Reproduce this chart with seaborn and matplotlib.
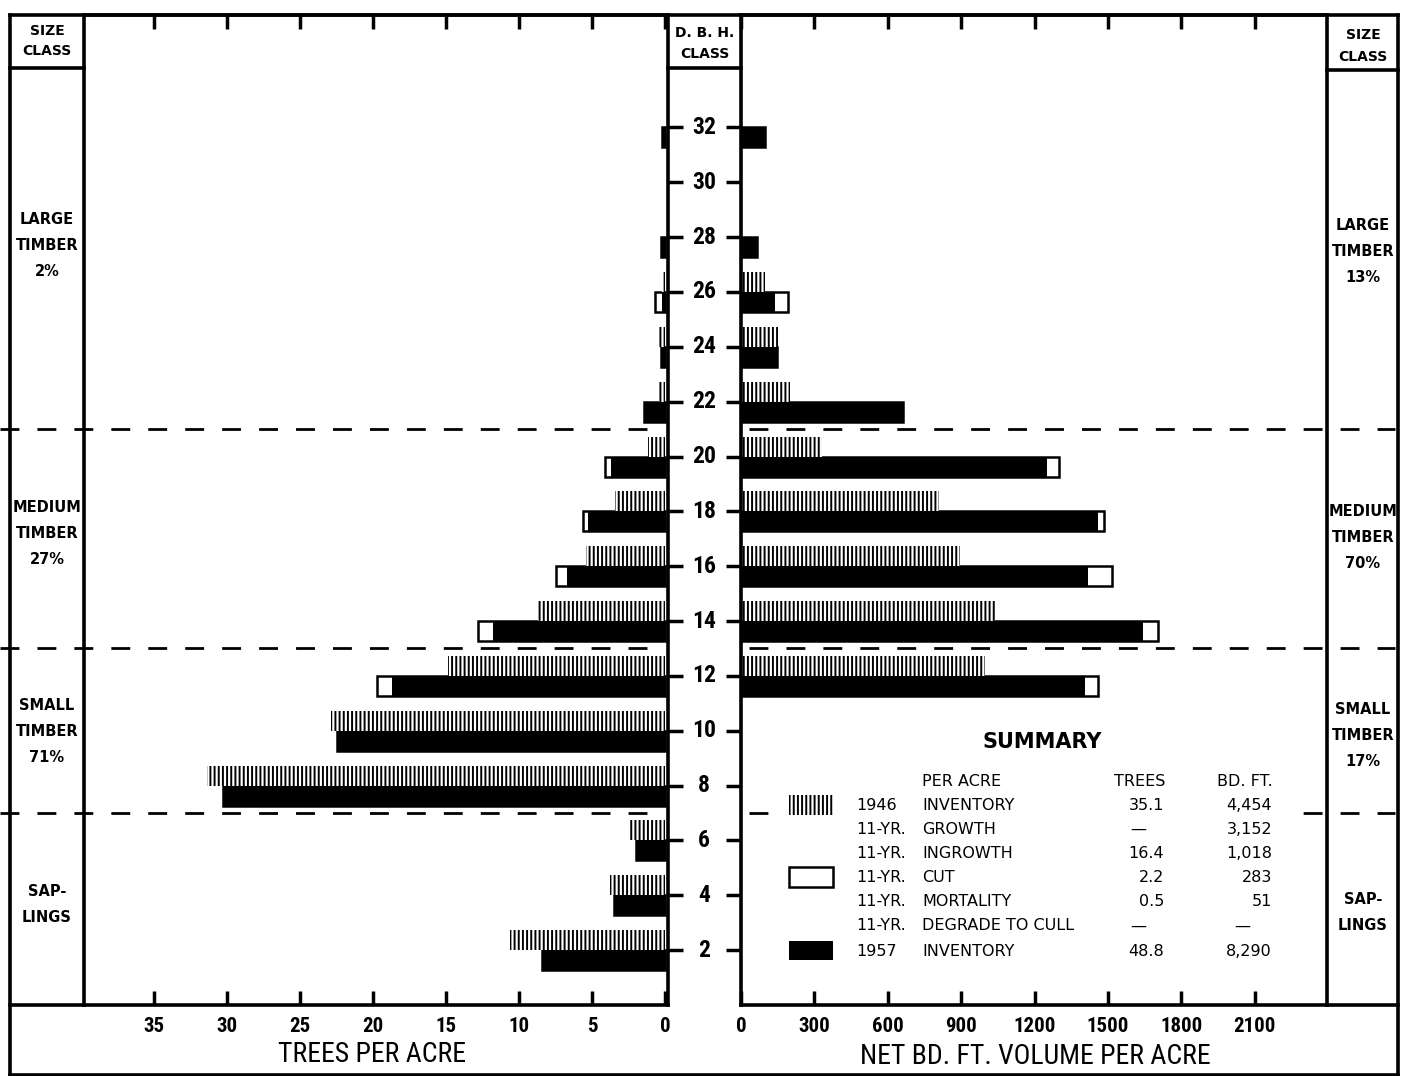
import matplotlib
matplotlib.use("Agg")
import matplotlib.pyplot as plt
import matplotlib.transforms as mtransforms
from matplotlib import font_manager
from matplotlib.patches import Rectangle
import seaborn as sns
import pandas as pd

# d.b.h. classes, top to bottom
dbh = [32, 30, 28, 26, 24, 22, 20, 18, 16, 14, 12, 10, 8, 6, 4, 2]

# trees per acre (left half)
trees_1946 = [0, 0, 0, 0.2, 0.4, 0.45, 1.2, 3.4, 5.4, 8.7, 14.9, 22.9, 31.4, 2.5, 3.8, 10.6]
trees_1957 = [0.2, 0, 0.25, 0.2, 0.3, 1.45, 3.7, 5.3, 6.7, 11.8, 18.7, 22.5, 30.3, 2.0, 3.5, 8.4]
trees_cut = [0, 0, 0, 0.5, 0, 0, 0.4, 0.3, 0.8, 1.0, 1.0, 0, 0, 0, 0, 0]

# net bd. ft. volume per acre (right half)
vol_1946 = [0, 0, 0, 98, 151, 200, 331, 809, 895, 1038, 997, 0, 0, 0, 0, 0]
vol_1957 = [98, 0, 65, 140, 147, 662, 1250, 1460, 1420, 1645, 1405, 0, 0, 0, 0, 0]
vol_cut = [0, 0, 0, 52, 0, 0, 50, 25, 95, 60, 55, 0, 0, 0, 0, 0]

tree_ticks = [35, 30, 25, 20, 15, 10, 5, 0]
vol_ticks = [0, 300, 600, 900, 1200, 1500, 1800, 2100]

# size class limits (d.b.h.) and side labels
size_bounds = [21, 13, 7]
size_names = [["LARGE", "TIMBER"], ["MEDIUM", "TIMBER"], ["SMALL", "TIMBER"], ["SAP-", "LINGS"]]
size_pct_trees = ["2%", "27%", "71%", ""]
size_pct_vol = ["13%", "70%", "17%", ""]

# summary table
summary_prefix = ["1946", "11-YR.", "11-YR.", "11-YR.", "11-YR.", "11-YR.", "1957"]
summary_item = ["INVENTORY", "GROWTH", "INGROWTH", "CUT", "MORTALITY", "DEGRADE TO CULL", "INVENTORY"]
summary_trees = ["35.1", "\u2014", "16.4", "2.2", "0.5", "\u2014", "48.8"]
summary_bdft = ["4,454", "3,152", "1,018", "283", "51", "\u2014", "8,290"]

sns.set_style("ticks")
plt.rcParams.update({
    "hatch.color": "black", "hatch.linewidth": 1.4,
    "text.color": "black", "axes.edgecolor": "black", "axes.labelcolor": "black",
    "xtick.color": "black", "ytick.color": "black",
})

available = {f.name for f in font_manager.fontManager.ttflist}
NARROW = next((f for f in ["Liberation Sans Narrow", "Roboto Condensed", "DejaVu Sans"] if f in available), "DejaVu Sans")
plt.rcParams["font.family"] = ["DejaVu Sans"]

W, H = 1408, 1076
fig = plt.figure(figsize=(W / 100, H / 100), dpi=100)


def px_axes(x0, y0, x1, y1, **kw):
    return fig.add_axes([x0 / W, 1 - y1 / H, (x1 - x0) / W, (y1 - y0) / H], **kw)


# background axes in pixel units for the frame
ax_bg = px_axes(0, 0, W, H, zorder=0)
ax_bg.set_xlim(0, W)
ax_bg.set_ylim(H, 0)
ax_bg.axis("off")

ax_left = px_axes(84, 15, 668, 1005, zorder=1)
ax_right = px_axes(741, 15, 1327, 1005, zorder=1)
for ax in (ax_left, ax_right):
    ax.set_facecolor("none")

LEVELS = ["1957", "1946"]


def bar_layer(ax, values, level, color, **kw):
    frame = pd.DataFrame({"dbh": dbh, "value": values, "series": level})
    frame = frame[frame["value"] > 0]
    start = len(ax.patches)
    sns.barplot(data=frame, x="value", y="dbh", hue="series", hue_order=LEVELS,
                palette={"1957": color, "1946": color}, orient="h", native_scale=True,
                dodge=True, width=0.73, errorbar=None, legend=False, ax=ax, **kw)
    return ax.patches[start:]


def draw_half(ax, v1946, v1957, vcut):
    total = [a + b for a, b in zip(v1957, vcut)]
    bar_layer(ax, total, "1957", "white", edgecolor="black", linewidth=1.8)
    bar_layer(ax, v1957, "1957", "black", linewidth=0)
    for p in bar_layer(ax, v1946, "1946", "white", edgecolor="black", linewidth=0):
        p.set_hatch("||||")
    ax.set_xlabel("")
    ax.set_ylabel("")


draw_half(ax_left, trees_1946, trees_1957, trees_cut)
draw_half(ax_right, vol_1946, vol_1957, vol_cut)

ax_left.set_xlim(39.8, -0.2)
ax_right.set_xlim(0, 2395)
for ax in (ax_left, ax_right):
    ax.set_ylim(0, 36.1)
    ax.set_yticks(dbh)
    for s in ax.spines.values():
        s.set_visible(True)
        s.set_linewidth(2.6)
        s.set_color("black")
    ax.tick_params(axis="x", top=True, bottom=True, direction="in", length=10,
                   width=2.5, pad=9, labelsize=15, color="black", labelcolor="black")

ax_left.set_xticks(tree_ticks)
ax_left.set_xticklabels([str(t) for t in tree_ticks])
ax_right.set_xticks(vol_ticks)
ax_right.set_xticklabels([str(t) for t in vol_ticks])
for ax in (ax_left, ax_right):
    for lbl in ax.get_xticklabels():
        lbl.set_fontfamily(NARROW)
        lbl.set_fontweight("bold")

ax_left.tick_params(axis="y", left=False, right=True, direction="out", length=11,
                    width=2.5, labelleft=False, labelright=False, color="black")
ax_right.tick_params(axis="y", left=True, right=False, direction="out", length=11,
                     width=2.5, labelleft=False, labelright=False, color="black")

# size class dividers
for b in size_bounds:
    tl = mtransforms.blended_transform_factory(ax_left.transAxes, ax_left.transData)
    ax_left.plot([-0.144, 0.986], [b, b], transform=tl, color="black", lw=2,
                 ls=(0, (6.8, 6.5)), clip_on=False)
    tr = mtransforms.blended_transform_factory(ax_right.transAxes, ax_right.transData)
    ax_right.plot([0.014, 1.116], [b, b], transform=tr, color="black", lw=2,
                  ls=(0, (6.8, 6.5)), clip_on=False)

# d.b.h. class labels in the middle column
tmid = mtransforms.blended_transform_factory(ax_bg.transData, ax_left.transData)
for d in dbh:
    ax_bg.text(704, d, str(d), transform=tmid, ha="center", va="center",
               fontsize=17, fontweight="bold", family=[NARROW, "DejaVu Sans"])

# frame lines
frame = [
    ((10, 1398), (15, 15)), ((10, 1398), (1075, 1075)),
    ((10, 10), (15, 1075)), ((1398, 1398), (15, 1075)),
    ((10, 84), (68, 68)), ((668, 741), (68, 68)), ((1327, 1398), (70, 70)),
    ((10, 84), (1005, 1005)), ((1327, 1398), (1005, 1005)),
]
for xs, ys in frame:
    ax_bg.plot(xs, ys, color="black", lw=2.6, solid_capstyle="projecting")

hdr = dict(ha="center", va="center", fontsize=10, fontweight="bold")
ax_bg.text(47, 31, "SIZE", **hdr)
ax_bg.text(47, 51, "CLASS", **hdr)
ax_bg.text(1363, 35, "SIZE", **hdr)
ax_bg.text(1363, 57, "CLASS", **hdr)
ax_bg.text(705, 33, "D. B. H.", **hdr)
ax_bg.text(705, 54, "CLASS", **hdr)

side_y_left = [219, 508, 705, 892]
side_y_right = [225, 512, 709, 899]
lab = dict(ha="center", va="center", fontsize=10.5, fontweight="bold")
for names, p_l, p_r, yl, yr in zip(size_names, size_pct_trees, size_pct_vol, side_y_left, side_y_right):
    lines_l = names + ([p_l] if p_l else [])
    lines_r = names + ([p_r] if p_r else [])
    for i, t in enumerate(lines_l):
        ax_bg.text(47, yl + i * 26, t, **lab)
    for i, t in enumerate(lines_r):
        ax_bg.text(1363, yr + i * 26, t, **lab)

# axis titles in the bottom strip
ax_bg.text(372, 1055, "TREES PER ACRE", ha="center", va="center", fontsize=20,
           family=[NARROW, "DejaVu Sans"])
ax_bg.text(1035, 1057, "NET BD. FT. VOLUME PER ACRE", ha="center", va="center",
           fontsize=20, family=[NARROW, "DejaVu Sans"])

# summary box
ax_sum = px_axes(770, 718, 1298, 972, zorder=3)
ax_sum.set_facecolor("white")
ax_sum.set_xlim(770, 1298)
ax_sum.set_ylim(972, 718)
ax_sum.set_xticks([])
ax_sum.set_yticks([])
for s in ax_sum.spines.values():
    s.set_visible(False)

ax_sum.text(1042, 742, "SUMMARY", ha="center", va="center", fontsize=15, fontweight="bold")
st = dict(va="center", fontsize=11.5)
ax_sum.text(922, 781, "PER ACRE", ha="left", **st)
ax_sum.text(1140, 781, "TREES", ha="center", **st)
ax_sum.text(1245, 781, "BD. FT.", ha="center", **st)
row_y = [805, 829, 853, 877, 901, 926, 951]
for y, pre, item, tr, bf in zip(row_y, summary_prefix, summary_item, summary_trees, summary_bdft):
    ax_sum.text(856, y, pre, ha="left", **st)
    ax_sum.text(922, y, item, ha="left", **st)
    if tr == "\u2014":
        ax_sum.text(1138, y, tr, ha="center", **st)
    else:
        ax_sum.text(1164, y, tr, ha="right", **st)
    if bf == "\u2014":
        ax_sum.text(1242, y, bf, ha="center", **st)
    else:
        ax_sum.text(1272, y, bf, ha="right", **st)

ax_sum.add_patch(Rectangle((789, 795), 44, 20, facecolor="white", edgecolor="black",
                           linewidth=0, hatch="||||"))
ax_sum.add_patch(Rectangle((789, 867), 44, 20, facecolor="white", edgecolor="black",
                           linewidth=1.8))
ax_sum.add_patch(Rectangle((789, 941), 44, 19, facecolor="black", edgecolor="black",
                           linewidth=0))

fig.savefig("out.png", dpi=100, facecolor="white")
